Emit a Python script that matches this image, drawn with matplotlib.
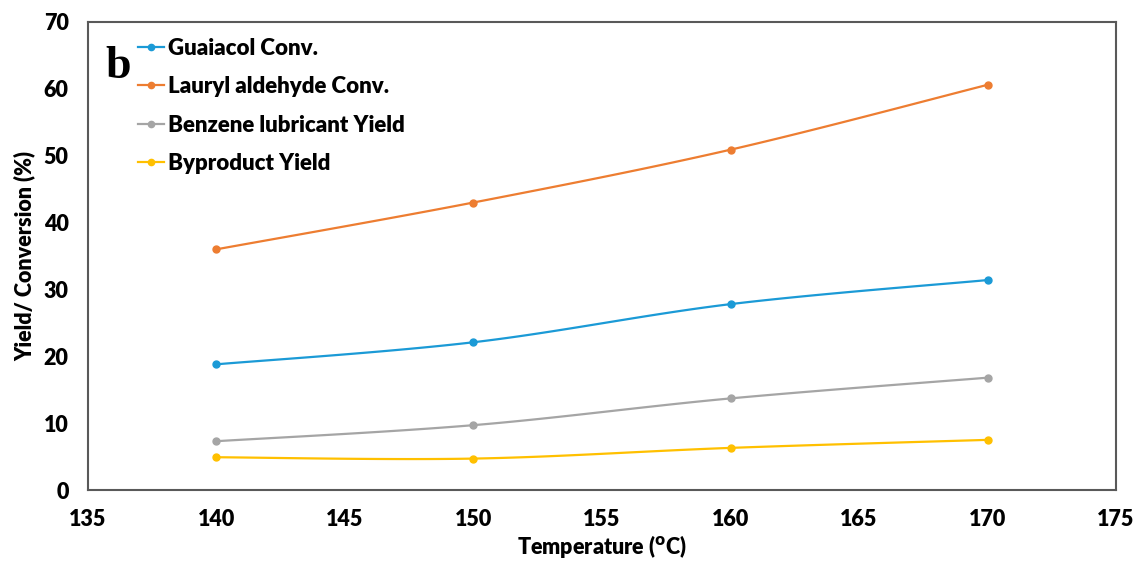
import matplotlib.pyplot as plt
import numpy as np

temps = [140, 150, 160, 170]
guaiacol_conv = [18.8, 22.1, 27.8, 31.4]
lauryl_conv = [36.0, 43.0, 50.9, 60.6]
benzene_yield = [7.3, 9.7, 13.7, 16.8]
byproduct_yield = [4.9, 4.7, 6.3, 7.5]

labels = ['Guaiacol Conv.', 'Lauryl aldehyde Conv.', 'Benzene lubricant Yield', 'Byproduct Yield']
colors = ['#1B9AD6', '#ED7D31', '#A5A5A5', '#FFC000']


def smooth(x, y, n=40, t=1.0 / 6):
    # excel style smoothed line: bezier through points, catmull-rom handles
    x = np.asarray(x, float)
    y = np.asarray(y, float)
    px = np.concatenate([[x[0]], x, [x[-1]]])
    py = np.concatenate([[y[0]], y, [y[-1]]])
    xs, ys = [], []
    s = np.linspace(0, 1, n)
    for i in range(len(x) - 1):
        p0 = np.array([px[i + 1], py[i + 1]])
        p3 = np.array([px[i + 2], py[i + 2]])
        p1 = p0 + t * (np.array([px[i + 2], py[i + 2]]) - np.array([px[i], py[i]]))
        p2 = p3 - t * (np.array([px[i + 3], py[i + 3]]) - np.array([px[i + 1], py[i + 1]]))
        b = ((1 - s) ** 3)[:, None] * p0 + (3 * (1 - s) ** 2 * s)[:, None] * p1 \
            + (3 * (1 - s) * s ** 2)[:, None] * p2 + (s ** 3)[:, None] * p3
        xs.extend(b[:, 0])
        ys.extend(b[:, 1])
    return xs, ys


plt.rcParams['font.family'] = ['Lato', 'DejaVu Sans']
plt.rcParams['font.weight'] = 'bold'

fig = plt.figure(figsize=(11.38, 5.62), dpi=100)
ax = fig.add_axes([0.0773, 0.1281, 0.9034, 0.8328])

for ys, lab, c in zip([guaiacol_conv, lauryl_conv, benzene_yield, byproduct_yield], labels, colors):
    sx, sy = smooth(temps, ys)
    ax.plot(sx, sy, color=c, lw=1.6)
    ax.plot(temps, ys, 'o', color=c, ms=5)
    ax.plot([], [], '-o', color=c, lw=1.6, ms=4.5, label=lab)

ax.set_xlim(135, 175)
ax.set_ylim(0, 70)
ax.set_xticks(range(135, 176, 5))
ax.set_yticks(range(0, 71, 10))
ax.tick_params(length=0, labelsize=15.5, pad=14)
for lbl in ax.get_xticklabels() + ax.get_yticklabels():
    lbl.set_fontweight('heavy')
for sp in ax.spines.values():
    sp.set_color('#595959')
    sp.set_linewidth(1.5)

ax.set_xlabel('Temperature ($^{\\mathrm{o}}$C)', fontsize=15.5, fontweight='heavy', labelpad=2)
ax.set_ylabel('Yield/ Conversion (%)', fontsize=15.5, fontweight='heavy', labelpad=6)

leg = ax.legend(loc='upper left', bbox_to_anchor=(0.031, 1.004), frameon=False,
                fontsize=16, handlelength=1.2, handletextpad=0.15, labelspacing=0.78,
                borderaxespad=0.4)
for txt in leg.get_texts():
    txt.set_fontweight('heavy')

ax.text(0.017, 0.948, 'b', transform=ax.transAxes, fontsize=33, fontweight='bold',
        family='Liberation Serif', va='top', ha='left')

fig.savefig('out.png', dpi=100)
